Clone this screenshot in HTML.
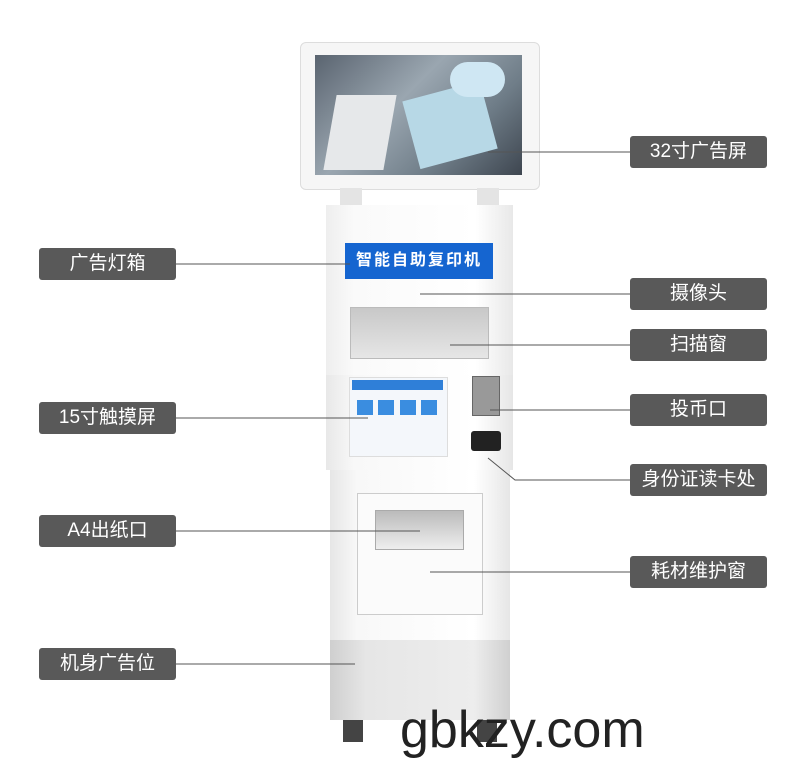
<!DOCTYPE html>
<html><head><meta charset="utf-8"><style>
body{margin:0;width:800px;height:778px;background:#fff;position:relative;overflow:hidden;font-family:"Liberation Sans","Noto Sans CJK SC",sans-serif}
.a{position:absolute}
.l{position:absolute;width:137px;height:32px;background:#595959;border-radius:3px;color:#fff;font-size:19px;line-height:32px;text-align:center}
</style></head><body>
<div class="a" style="left:300px;top:42px;width:238px;height:146px;background:#f6f6f6;border:1px solid #ddd;border-radius:6px"></div>
<div class="a" style="left:315px;top:55px;width:207px;height:120px;background:linear-gradient(135deg,#5a6470,#9aa6b0 40%,#6f7d88 70%,#3e4650)"></div>
<div class="a" style="left:330px;top:95px;width:60px;height:75px;background:#e6e8ea;transform:skewX(-10deg)"></div>
<div class="a" style="left:410px;top:90px;width:80px;height:70px;background:#b7d8e6;transform:rotate(-15deg)"></div>
<div class="a" style="left:450px;top:62px;width:55px;height:35px;background:#cfe7f3;border-radius:18px"></div>
<div class="a" style="left:340px;top:188px;width:22px;height:19px;background:#e4e4e4"></div>
<div class="a" style="left:477px;top:188px;width:22px;height:19px;background:#e4e4e4"></div>
<div class="a" style="left:326px;top:205px;width:187px;height:170px;background:linear-gradient(90deg,#eee,#fafafa 15%,#fff 80%,#e8e8e8)"></div>
<div class="a" style="left:345px;top:243px;width:148px;height:36px;background:#1565d0;color:#fff;font-size:16px;font-weight:bold;line-height:36px;text-align:center;letter-spacing:2px">智能自助复印机</div>
<div class="a" style="left:350px;top:307px;width:137px;height:50px;background:linear-gradient(#c8c8c8,#e6e6e6);border:1px solid #bbb"></div>
<div class="a" style="left:326px;top:375px;width:187px;height:95px;background:linear-gradient(90deg,#e8e8e8,#f8f8f8 15%,#fff 80%,#e6e6e6)"></div>
<div class="a" style="left:349px;top:377px;width:97px;height:78px;background:#f4f7fb;border:1px solid #ddd"></div>
<div class="a" style="left:352px;top:380px;width:91px;height:10px;background:#2f7fd8"></div>
<div class="a" style="left:357px;top:400px;width:16px;height:15px;background:#3a8de0"></div>
<div class="a" style="left:378px;top:400px;width:16px;height:15px;background:#3a8de0"></div>
<div class="a" style="left:400px;top:400px;width:16px;height:15px;background:#3a8de0"></div>
<div class="a" style="left:421px;top:400px;width:16px;height:15px;background:#3a8de0"></div>
<div class="a" style="left:472px;top:376px;width:26px;height:38px;background:#999;border:1px solid #666"></div>
<div class="a" style="left:471px;top:431px;width:30px;height:20px;background:#222;border-radius:3px"></div>
<div class="a" style="left:330px;top:470px;width:180px;height:170px;background:linear-gradient(90deg,#e6e6e6,#f8f8f8 15%,#fff 80%,#e6e6e6)"></div>
<div class="a" style="left:357px;top:493px;width:124px;height:120px;border:1px solid #ccc;background:#fbfbfb"></div>
<div class="a" style="left:375px;top:510px;width:87px;height:38px;background:linear-gradient(#bbb,#eee);border:1px solid #aaa"></div>
<div class="a" style="left:330px;top:640px;width:180px;height:80px;background:linear-gradient(90deg,#cfcfcf,#e6e6e6 20%,#ededed 80%,#d0d0d0)"></div>
<div class="a" style="left:343px;top:720px;width:20px;height:22px;background:#444"></div>
<div class="a" style="left:477px;top:720px;width:20px;height:22px;background:#444"></div>
<div class="a" style="left:400px;top:700px;font-size:52px;color:#222;font-family:'Liberation Sans',sans-serif">gbkzy.com</div>
<svg class="a" style="left:0;top:0" width="800" height="778">
<g stroke="#555" stroke-width="1" fill="none">
<line x1="488" y1="152" x2="630" y2="152"/>
<line x1="176" y1="264" x2="350" y2="264"/>
<line x1="420" y1="294" x2="630" y2="294"/>
<line x1="450" y1="345" x2="630" y2="345"/>
<line x1="176" y1="418" x2="368" y2="418"/>
<line x1="490" y1="410" x2="630" y2="410"/>
<polyline points="488,458 515,480 630,480"/>
<line x1="176" y1="531" x2="420" y2="531"/>
<line x1="430" y1="572" x2="630" y2="572"/>
<line x1="176" y1="664" x2="355" y2="664"/>
</g></svg>
<div class="l" style="left:630px;top:136px">32寸广告屏</div>
<div class="l" style="left:39px;top:248px">广告灯箱</div>
<div class="l" style="left:630px;top:278px">摄像头</div>
<div class="l" style="left:630px;top:329px">扫描窗</div>
<div class="l" style="left:39px;top:402px">15寸触摸屏</div>
<div class="l" style="left:630px;top:394px">投币口</div>
<div class="l" style="left:630px;top:464px">身份证读卡处</div>
<div class="l" style="left:39px;top:515px">A4出纸口</div>
<div class="l" style="left:630px;top:556px">耗材维护窗</div>
<div class="l" style="left:39px;top:648px">机身广告位</div>
</body></html>
